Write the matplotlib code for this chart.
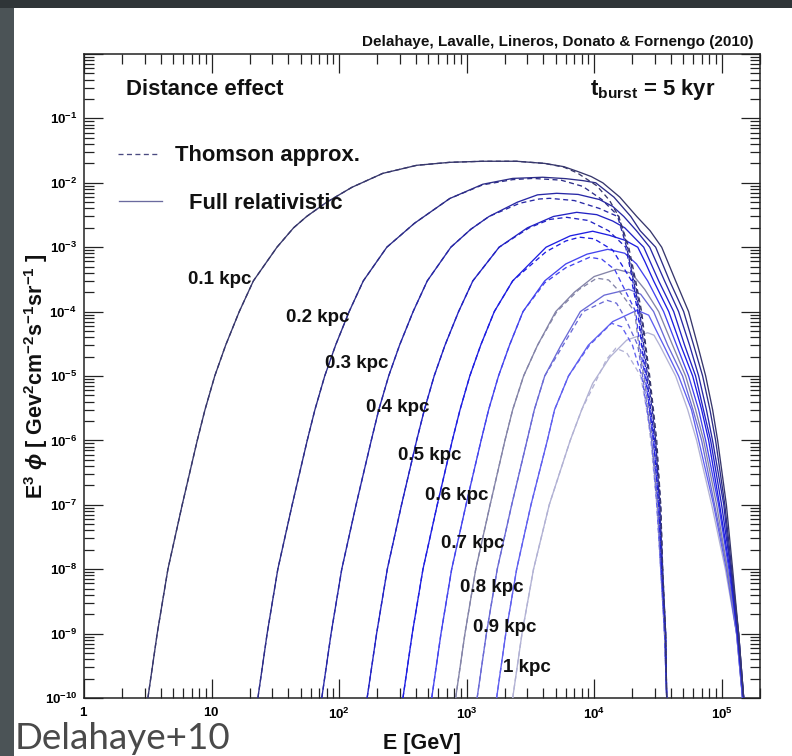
import math
import matplotlib
matplotlib.use('Agg')
import matplotlib.pyplot as plt
from matplotlib.patches import Rectangle
from matplotlib.lines import Line2D
from matplotlib.ticker import LogLocator, FuncFormatter, NullFormatter

plt.rcParams['font.family'] = ['Liberation Sans', 'DejaVu Sans']
plt.rcParams['mathtext.fontset'] = 'custom'
plt.rcParams['mathtext.rm'] = 'Liberation Sans:bold'
plt.rcParams['mathtext.bf'] = 'Liberation Sans:bold'
plt.rcParams['mathtext.it'] = 'Liberation Sans:bold:italic'
plt.rcParams['mathtext.sf'] = 'Liberation Sans:bold'

# ---------------- data ----------------
distances = ['0.1 kpc', '0.2 kpc', '0.3 kpc', '0.4 kpc', '0.5 kpc',
             '0.6 kpc', '0.7 kpc', '0.8 kpc', '0.9 kpc', '1 kpc']

# Full relativistic (solid)
E_full_01 = [3.17, 3.75, 4.55, 5.89, 7.73, 8.89, 10.6, 12.9, 16.5, 21.3, 32.6, 44, 55.7, 80, 126, 220, 407, 740,
             1340, 2470, 4100, 5800, 7430, 9500, 1.17e4, 1.59e4, 2.16e4, 2.75e4, 3.39e4, 4.36e4, 5.51e4, 6.49e4,
             7.50e4, 8.5e4, 9.31e4, 1.09e5, 1.22e5, 1.36e5, 1.49e5]
F_full_01 = [1e-10, 1e-9, 1e-8, 1e-7, 1e-6, 3e-6, 1e-5, 3e-5, 1e-4, 3e-4, 1e-3, 2e-3, 3e-3, 5e-3, 8.5e-3, 1.4e-2, 1.87e-2,
             2.08e-2, 2.16e-2, 2.16e-2, 2e-2, 1.78e-2, 1.5e-2, 1.25e-2, 1e-2, 6e-3, 3e-3, 1.8e-3, 1e-3, 3e-4, 1e-4,
             3e-5, 1e-5, 3e-6, 1e-6, 1e-7, 1e-8, 1e-9, 1e-10]
E_full_02 = [23.1, 27.3, 33.1, 42.9, 56.3, 64.7, 77.2, 93.9, 120, 155, 237, 390, 738, 1340, 2300, 3950, 6000, 8200,
             1.03e4, 1.43e4, 1.94e4, 2.3e4, 3.04e4, 3.91e4, 5.04e4, 6.04e4, 7.10e4, 8.1e4, 8.97e4, 1.06e5, 1.20e5,
             1.36e5, 1.49e5]
F_full_02 = [1e-10, 1e-9, 1e-8, 1e-7, 1e-6, 3e-6, 1e-5, 3e-5, 1e-4, 3e-4, 1e-3, 2.35e-3, 5.7e-3, 9.5e-3, 1.17e-2,
             1.22e-2, 1.16e-2, 1.08e-2, 1e-2, 6e-3, 3e-3, 1.8e-3, 1e-3, 3e-4, 1e-4, 3e-5, 1e-5, 3e-6, 1e-6, 1e-7,
             1e-8, 1e-9, 1e-10]
E_full_03 = [73.2, 86.6, 105, 136, 179, 205, 245, 298, 381, 492, 753, 1080, 1500, 2500, 3600, 5090, 7500, 1.1e4,
             1.4e4, 1.71e4, 2.15e4, 2.73e4, 3.57e4, 4.60e4, 5.61e4, 6.61e4, 7.6e4, 8.49e4, 1.04e5, 1.18e5, 1.36e5,
             1.49e5]
F_full_03 = [1e-10, 1e-9, 1e-8, 1e-7, 1e-6, 3e-6, 1e-5, 3e-5, 1e-4, 3e-4, 1e-3, 1.9e-3, 3e-3, 5e-3, 6.5e-3, 6.87e-3,
             6.6e-3, 5.5e-3, 4.3e-3, 3e-3, 1.8e-3, 1e-3, 3e-4, 1e-4, 3e-5, 1e-5, 3e-6, 1e-6, 1e-7, 1e-8, 1e-9, 1e-10]
E_full_04 = [166, 197, 239, 309, 406, 467, 557, 677, 866, 1120, 1800, 3000, 4800, 7310, 1.05e4, 1.4e4, 1.74e4,
             2.45e4, 3.21e4, 4.21e4, 5.13e4, 6.25e4, 7.2e4, 8.20e4, 1.0e5, 1.18e5, 1.33e5, 1.49e5]
F_full_04 = [1e-10, 1e-9, 1e-8, 1e-7, 1e-6, 3e-6, 1e-5, 3e-5, 1e-4, 3e-4, 1e-3, 2e-3, 3e-3, 3.48e-3, 3.2e-3, 2.55e-3,
             2e-3, 1e-3, 3e-4, 1e-4, 3e-5, 1e-5, 3e-6, 1e-6, 1e-7, 1e-8, 1e-9, 1e-10]
E_full_05 = [317, 375, 455, 589, 773, 889, 1060, 1290, 1650, 2300, 4200, 6500, 9750, 1.32e4, 1.75e4, 2.20e4, 2.5e4,
             2.93e4, 3.85e4, 4.78e4, 5.93e4, 6.97e4, 7.91e4, 9.64e4, 1.16e5, 1.33e5, 1.49e5]
F_full_05 = [1e-10, 1e-9, 1e-8, 1e-7, 1e-6, 3e-6, 1e-5, 3e-5, 1e-4, 3e-4, 1e-3, 1.5e-3, 1.77e-3, 1.53e-3, 1.28e-3,
             1e-3, 6e-4, 3e-4, 1e-4, 3e-5, 1e-5, 3e-6, 1e-6, 1e-7, 1e-8, 1e-9, 1e-10]
E_full_06 = [533, 630, 764, 990, 1300, 1490, 1780, 2170, 2770, 4100, 6000, 8800, 1.28e4, 1.74e4, 2.15e4, 2.63e4,
             3.51e4, 4.44e4, 5.51e4, 6.6e4, 7.50e4, 9.46e4, 1.14e5, 1.33e5, 1.46e5]
F_full_06 = [1e-10, 1e-9, 1e-8, 1e-7, 1e-6, 3e-6, 1e-5, 3e-5, 1e-4, 3e-4, 5.5e-4, 7.8e-4, 9.27e-4, 8.05e-4, 5.5e-4,
             3e-4, 1e-4, 3e-5, 1e-5, 3e-6, 1e-6, 1e-7, 1e-8, 1e-9, 1e-10]
E_full_07 = [821, 971, 1180, 1530, 2000, 2300, 2800, 3600, 5000, 7000, 1.0e4, 1.5e4, 1.97e4, 2.5e4, 3.21e4, 4.13e4,
             5.22e4, 6.25e4, 7.23e4, 9.14e4, 1.11e5, 1.33e5, 1.46e5]
F_full_07 = [1e-10, 1e-9, 1e-8, 1e-7, 1e-6, 3e-6, 1e-5, 3e-5, 1e-4, 2e-4, 3.5e-4, 4.54e-4, 3.94e-4, 2.2e-4, 1e-4,
             3e-5, 1e-5, 3e-6, 1e-6, 1e-7, 1e-8, 1e-9, 1e-10]
E_full_08 = [1210, 1430, 1740, 2260, 2980, 3400, 4100, 5500, 7800, 1.2e4, 1.87e4, 2.32e4, 2.93e4, 3.78e4, 4.94e4,
             5.96e4, 6.97e4, 8.81e4, 1.11e5, 1.31e5, 1.46e5]
F_full_08 = [1e-10, 1e-9, 1e-8, 1e-7, 1e-6, 3e-6, 1e-5, 3e-5, 1e-4, 1.8e-4, 2.22e-4, 1.86e-4, 1e-4, 3e-5, 1e-5,
             3e-6, 1e-6, 1e-7, 1e-8, 1e-9, 1e-10]
E_full_09 = [1720, 2030, 2470, 3200, 4300, 4900, 6300, 9000, 1.4e4, 2.17e4, 2.68e4, 3.51e4, 4.60e4, 5.8e4, 6.61e4,
             8.65e4, 1.09e5, 1.31e5, 1.46e5]
F_full_09 = [1e-10, 1e-9, 1e-8, 1e-7, 1e-6, 3e-6, 1e-5, 3e-5, 7e-5, 1.05e-4, 8.8e-5, 3e-5, 1e-5, 3e-6, 1e-6,
             1e-7, 1e-8, 1e-9, 1e-10]
E_full_10 = [2300, 2720, 3350, 4450, 6500, 8000, 9750, 1.33e4, 1.8e4, 2.63e4, 2.95e4, 3.27e4, 4.36e4, 5.42e4, 6.37e4,
             8.36e4, 1.07e5, 1.31e5, 1.46e5]
F_full_10 = [1e-10, 1e-9, 1e-8, 1e-7, 1e-6, 3e-6, 7.7e-6, 1.96e-5, 3.6e-5, 4.7e-5, 4.3e-5, 3e-5, 1e-5, 3e-6, 1e-6,
             1e-7, 1e-8, 1e-9, 1e-10]

# Thomson approximation (dashed)
E_thom_01 = [3.17, 3.75, 4.55, 5.89, 7.73, 8.89, 10.6, 12.9, 16.5, 21.3, 32.6, 44, 55.7, 80, 126, 220, 407, 740,
             1340, 2470, 4100, 5800, 7400, 1.05e4, 1.32e4, 1.56e4, 1.87e4, 2.12e4, 2.36e4, 2.54e4, 2.73e4, 2.92e4,
             3.10e4, 3.33e4, 3.45e4, 3.64e4, 3.71e4]
F_thom_01 = [1e-10, 1e-9, 1e-8, 1e-7, 1e-6, 3e-6, 1e-5, 3e-5, 1e-4, 3e-4, 1e-3, 2e-3, 3e-3, 5e-3, 8.5e-3, 1.4e-2, 1.87e-2,
             2.08e-2, 2.16e-2, 2.16e-2, 2e-2, 1.75e-2, 1.42e-2, 9e-3, 5.35e-3, 3e-3, 1e-3, 3e-4, 1e-4, 3e-5, 1e-5,
             3e-6, 1e-6, 1e-7, 1e-8, 1e-9, 1e-10]
E_thom_02 = [23.1, 27.3, 33.1, 42.9, 56.3, 64.7, 77.2, 93.9, 120, 155, 237, 390, 738, 1340, 2300, 3300, 5500, 8150,
             1.15e4, 1.56e4, 1.83e4, 2.08e4, 2.32e4, 2.50e4, 2.68e4, 2.88e4, 3.04e4, 3.33e4, 3.45e4, 3.64e4, 3.71e4]
F_thom_02 = [1e-10, 1e-9, 1e-8, 1e-7, 1e-6, 3e-6, 1e-5, 3e-5, 1e-4, 3e-4, 1e-3, 2.35e-3, 5.7e-3, 9.3e-3, 1.12e-2,
             1.17e-2, 1.1e-2, 8.8e-3, 5.5e-3, 3e-3, 1e-3, 3e-4, 1e-4, 3e-5, 1e-5, 3e-6, 1e-6, 1e-7, 1e-8, 1e-9, 1e-10]
E_thom_03 = [73.2, 86.6, 105, 136, 179, 205, 245, 298, 381, 492, 753, 1080, 1500, 2600, 3700, 4490, 7000, 1.1e4,
             1.53e4, 1.80e4, 2.04e4, 2.28e4, 2.45e4, 2.63e4, 2.85e4, 3.04e4, 3.27e4, 3.45e4, 3.64e4, 3.71e4]
F_thom_03 = [1e-10, 1e-9, 1e-8, 1e-7, 1e-6, 3e-6, 1e-5, 3e-5, 1e-4, 3e-4, 1e-3, 1.9e-3, 3e-3, 4.8e-3, 5.6e-3, 5.74e-3,
             5.3e-3, 4.0e-3, 3e-3, 1e-3, 3e-4, 1e-4, 3e-5, 1e-5, 3e-6, 1e-6, 1e-7, 1e-8, 1e-9, 1e-10]
E_thom_04 = [166, 197, 239, 309, 406, 467, 557, 677, 866, 1120, 1800, 3100, 4500, 6100, 9000, 1.3e4, 1.77e4, 2.01e4,
             2.24e4, 2.40e4, 2.58e4, 2.78e4, 2.99e4, 3.27e4, 3.39e4, 3.64e4, 3.71e4]
F_thom_04 = [1e-10, 1e-9, 1e-8, 1e-7, 1e-6, 3e-6, 1e-5, 3e-5, 1e-4, 3e-4, 1e-3, 2e-3, 2.7e-3, 2.91e-3, 2.6e-3, 1.8e-3,
             1e-3, 3e-4, 1e-4, 3e-5, 1e-5, 3e-6, 1e-6, 1e-7, 1e-8, 1e-9, 1e-10]
E_thom_05 = [317, 375, 455, 589, 773, 889, 1060, 1290, 1650, 2300, 4200, 6000, 7710, 1.0e4, 1.4e4, 1.97e4, 2.20e4,
             2.36e4, 2.54e4, 2.73e4, 2.93e4, 3.21e4, 3.39e4, 3.64e4, 3.71e4]
F_thom_05 = [1e-10, 1e-9, 1e-8, 1e-7, 1e-6, 3e-6, 1e-5, 3e-5, 1e-4, 3e-4, 8.5e-4, 1.25e-3, 1.43e-3, 1.35e-3, 9e-4,
             3e-4, 1e-4, 3e-5, 1e-5, 3e-6, 1e-6, 1e-7, 1e-8, 1e-9, 1e-10]
E_thom_06 = [533, 630, 764, 990, 1300, 1490, 1780, 2170, 2770, 4100, 6000, 9240, 1.15e4, 1.45e4, 2.12e4, 2.28e4,
             2.50e4, 2.73e4, 2.93e4, 3.21e4, 3.39e4, 3.57e4, 3.71e4]
F_thom_06 = [1e-10, 1e-9, 1e-8, 1e-7, 1e-6, 3e-6, 1e-5, 3e-5, 1e-4, 2.8e-4, 4.8e-4, 6.98e-4, 6.5e-4, 4.5e-4, 1e-4,
             3e-5, 1e-5, 3e-6, 1e-6, 1e-7, 1e-8, 1e-9, 1e-10]
E_thom_07 = [821, 971, 1180, 1530, 2000, 2300, 2800, 3600, 5100, 7600, 1.05e4, 1.3e4, 1.6e4, 2.08e4, 2.24e4, 2.45e4,
             2.68e4, 2.88e4, 3.15e4, 3.39e4, 3.57e4, 3.71e4]
F_thom_07 = [1e-10, 1e-9, 1e-8, 1e-7, 1e-6, 3e-6, 1e-5, 3e-5, 1e-4, 2.2e-4, 3.3e-4, 3.1e-4, 2e-4, 1e-4, 3e-5, 1e-5,
             3e-6, 1e-6, 1e-7, 1e-8, 1e-9, 1e-10]
E_thom_08 = [1210, 1430, 1740, 2260, 2980, 3400, 4100, 5600, 8200, 1.26e4, 1.5e4, 1.75e4, 2.20e4, 2.40e4, 2.63e4,
             2.83e4, 3.15e4, 3.33e4, 3.57e4, 3.71e4]
F_thom_08 = [1e-10, 1e-9, 1e-8, 1e-7, 1e-6, 3e-6, 1e-5, 2.8e-5, 1e-4, 1.5e-4, 1.35e-4, 8e-5, 3e-5, 1e-5, 3e-6,
             1e-6, 1e-7, 1e-8, 1e-9, 1e-10]
E_thom_09 = [1720, 2030, 2470, 3200, 4300, 4900, 6300, 9200, 1.37e4, 1.65e4, 2.0e4, 2.36e4, 2.6e4, 2.83e4, 3.10e4,
             3.33e4, 3.57e4, 3.71e4]
F_thom_09 = [1e-10, 1e-9, 1e-8, 1e-7, 1e-6, 3e-6, 1e-5, 3e-5, 6.59e-5, 5.8e-5, 3e-5, 1e-5, 3e-6, 1e-6, 1e-7,
             1e-8, 1e-9, 1e-10]
E_thom_10 = [2300, 2720, 3350, 4450, 6500, 8000, 9900, 1.25e4, 1.48e4, 1.8e4, 2.32e4, 2.58e4, 2.78e4, 3.10e4, 3.33e4,
             3.57e4, 3.71e4]
F_thom_10 = [1e-10, 1e-9, 1e-8, 1e-7, 1e-6, 3e-6, 7e-6, 1.8e-5, 2.7e-5, 2.3e-5, 1e-5, 3e-6, 1e-6, 1e-7, 1e-8,
             1e-9, 1e-10]

full_E = [E_full_01, E_full_02, E_full_03, E_full_04, E_full_05, E_full_06, E_full_07, E_full_08, E_full_09, E_full_10]
full_F = [F_full_01, F_full_02, F_full_03, F_full_04, F_full_05, F_full_06, F_full_07, F_full_08, F_full_09, F_full_10]
thom_E = [E_thom_01, E_thom_02, E_thom_03, E_thom_04, E_thom_05, E_thom_06, E_thom_07, E_thom_08, E_thom_09, E_thom_10]
thom_F = [F_thom_01, F_thom_02, F_thom_03, F_thom_04, F_thom_05, F_thom_06, F_thom_07, F_thom_08, F_thom_09, F_thom_10]

# ---------------- styling ----------------
line_colors = ['#37376c', '#2d2d88', '#2828a6', '#2323c4', '#1e1ee2',
               '#4444ee', '#8484a8', '#6a6ad6', '#5f5ff0', '#b2b2d4']
label_pos = [(188, 279), (286, 317), (325, 364), (366, 408), (398, 456),
             (425, 495), (441, 543), (460, 588), (473, 628), (503, 668)]
DASH = (0, (3.8, 2.6))

W, H = 792, 756
fig = plt.figure(figsize=(W / 100, H / 100), dpi=100, facecolor='#4b5356')
fig.patches.append(Rectangle((0, 1 - 8 / H), 1, 8 / H, transform=fig.transFigure,
                             facecolor='#2f3538', edgecolor='none', zorder=-6))
fig.patches.append(Rectangle((14 / W, 0), 1 - 14 / W, 1 - 8 / H, transform=fig.transFigure,
                             facecolor='white', edgecolor='none', zorder=-5))

ax = fig.add_axes([84 / W, 1 - 698 / H, 676 / W, 644 / H], zorder=2)
ax.set_facecolor('white')
ax.set_xscale('log')
ax.set_yscale('log')
ax.set_xlim(1, 2.0e5)
ax.set_ylim(1e-10, 1)

for i in range(9, -1, -1):
    ax.plot(full_E[i], full_F[i], color=line_colors[i], lw=0.95, solid_joinstyle='round', zorder=3 + (9 - i) * 0.1)
    ax.plot(thom_E[i], thom_F[i], color=line_colors[i], lw=0.95, ls=DASH, zorder=3 + (9 - i) * 0.1)

# ticks, ROOT style
ax.xaxis.set_major_locator(LogLocator(base=10, numticks=20))
ax.xaxis.set_minor_locator(LogLocator(base=10, subs=range(2, 10), numticks=20))
ax.yaxis.set_major_locator(LogLocator(base=10, numticks=20))
ax.yaxis.set_minor_locator(LogLocator(base=10, subs=range(2, 10), numticks=20))
ax.xaxis.set_minor_formatter(NullFormatter())
ax.yaxis.set_minor_formatter(NullFormatter())


def xfmt(v, pos):
    n = int(round(math.log10(v)))
    if n == 0:
        return r'$1$'
    if n == 1:
        return r'$10$'
    return r'$10^{%d}$' % n


def yfmt(v, pos):
    n = int(round(math.log10(v)))
    if n >= 0:
        return ''
    return r'$10^{%d}$' % n


ax.xaxis.set_major_formatter(FuncFormatter(xfmt))
ax.yaxis.set_major_formatter(FuncFormatter(yfmt))
ax.tick_params(which='major', direction='in', length=14, width=0.9, top=True, right=True,
               labelsize=9.6, color='#222222')
ax.tick_params(which='minor', direction='in', length=7, width=0.9, top=True, right=True, color='#222222')
ax.tick_params(axis='y', which='major', pad=5)
ax.tick_params(axis='x', which='major', pad=6)
for s in ax.spines.values():
    s.set_linewidth(1.1)
    s.set_color('#222222')


def fx(px):
    return px / W


def fy(py):
    return 1 - py / H


# texts
fig.text(fx(753), fy(46), 'Delahaye, Lavalle, Lineros, Donato & Fornengo (2010)', ha='right', va='baseline',
         fontsize=11, weight='bold', color='#111111')
fig.text(fx(126), fy(95), 'Distance effect', ha='left', va='baseline', fontsize=15.9, weight='bold',
         color='#111111', zorder=5)
fig.text(fx(590), fy(95), r'$\mathrm{t_{burst}}$ = 5 kyr', ha='left', va='baseline', fontsize=15.9, weight='bold',
         color='#111111', zorder=5)

# legend
fig.add_artist(Line2D([fx(118), fx(160)], [fy(154), fy(154)], color='#4a4a80', lw=0.95, ls=DASH, zorder=5))
fig.text(fx(175), fy(161), 'Thomson approx.', ha='left', va='baseline', fontsize=15.8, weight='bold',
         color='#111111', zorder=5)
fig.add_artist(Line2D([fx(119), fx(162)], [fy(201), fy(201)], color='#6a6a9e', lw=0.95, zorder=5))
fig.text(fx(189), fy(209), 'Full relativistic', ha='left', va='baseline', fontsize=15.8, weight='bold',
         color='#111111', zorder=5)

for name, (px, py) in zip(distances, label_pos):
    fig.text(fx(px), fy(py), name, ha='left', va='center', fontsize=13.5, weight='bold', color='#111111', zorder=5)

# axis titles
fig.text(fx(422), fy(743), 'E [GeV]', ha='center', va='center', fontsize=15.5, weight='bold', color='#111111')
fig.text(fx(36), fy(376), r'E$^{3}$ $\phi$ [ Gev$^{2}$cm$^{-2}$s$^{-1}$sr$^{-1}$ ]', rotation=90,
         ha='center', va='center', fontsize=15.5, weight='bold', color='#111111')

fig.text(fx(15), fy(749), 'Delahaye+10', ha='left', va='baseline', fontsize=26.5, family='Lato',
         color='#4a4a4a')

fig.savefig('out.png', dpi=100, facecolor=fig.get_facecolor())
